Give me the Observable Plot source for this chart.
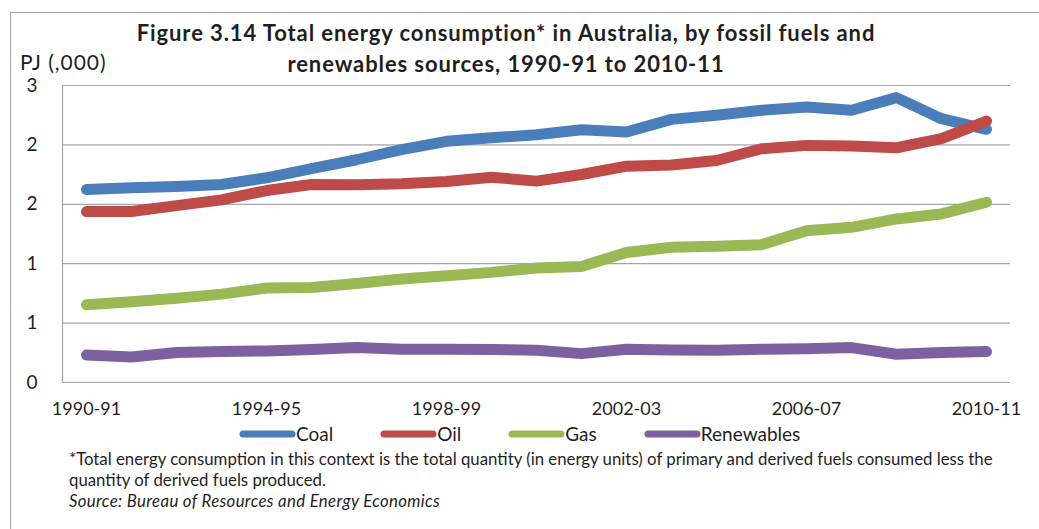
<!DOCTYPE html>
<html>
<head>
<meta charset="utf-8">
<script src="https://cdn.jsdelivr.net/npm/d3@7"></script>
<script src="https://cdn.jsdelivr.net/npm/@observablehq/plot@0.6"></script>
<style>
html, body { margin: 0; padding: 0; background: #fff; }
#wrap { position: relative; width: 1039px; height: 529px; overflow: hidden; font-family: Lato, "Open Sans", sans-serif; color: #1f1f1f; }
#border { position: absolute; left: 10px; top: 12px; width: 1200px; height: 700px; border-top: 1px solid #a6a6a6; border-left: 1px solid #a6a6a6; }
#chart { position: absolute; left: 0; top: 0; }
#title { position: absolute; left: 56px; width: 900px; top: 16.7px; text-align: center; font-weight: bold; font-size: 22px; letter-spacing: 0.9px; line-height: 31px; white-space: nowrap; }
#ylabel { position: absolute; left: 20px; top: 51.4px; font-size: 21px; letter-spacing: 1px; line-height: 21px; white-space: nowrap; }
#legend { position: absolute; left: 239px; top: 422.5px; height: 22px; display: flex; align-items: center; gap: 47px; font-size: 19px; line-height: 22px; white-space: nowrap; }
.item { display: flex; align-items: center; }
.item svg { display: block; }
#note { position: absolute; left: 69px; top: 447.5px; font-size: 16.8px; line-height: 21.3px; white-space: nowrap; }
#note i { font-style: italic; letter-spacing: 0.34px; }
</style>
</head>
<body>
<div id="wrap">
  <div id="border"></div>
  <div id="chart"></div>
  <div id="title">Figure 3.14 Total energy consumption* in Australia, by fossil fuels and<br>renewables sources, 1990-91 to 2010-11</div>
  <div id="ylabel">PJ (,000)</div>
  <div id="legend"></div>
  <div id="note">*Total energy consumption in this context is the total quantity (in energy units) of primary and derived fuels consumed less the<br>quantity of derived fuels produced.<br><i>Source: Bureau of Resources and Energy Economics</i></div>
</div>
<script>
const years = ["1990-91","1991-92","1992-93","1993-94","1994-95","1995-96","1996-97","1997-98","1998-99","1999-00","2000-01","2001-02","2002-03","2003-04","2004-05","2005-06","2006-07","2007-08","2008-09","2009-10","2010-11"];
const coal = [1.625,1.639,1.65,1.667,1.723,1.80,1.875,1.96,2.03,2.06,2.086,2.128,2.108,2.215,2.249,2.291,2.319,2.291,2.398,2.221,2.131];
const oil = [1.439,1.439,1.489,1.537,1.616,1.667,1.664,1.672,1.692,1.728,1.695,1.751,1.821,1.83,1.869,1.968,1.996,1.99,1.976,2.052,2.201];
const gas = [0.654,0.679,0.71,0.744,0.795,0.80,0.834,0.871,0.899,0.927,0.964,0.977,1.095,1.138,1.146,1.16,1.278,1.306,1.377,1.419,1.517];
const renewables = [0.232,0.215,0.252,0.26,0.266,0.277,0.294,0.28,0.28,0.277,0.272,0.243,0.28,0.274,0.272,0.28,0.285,0.294,0.238,0.252,0.26];

const seriesNames = ["Coal","Oil","Gas","Renewables"];
const seriesColors = ["#4a7ebb","#be4b48","#98b954","#7d60a0"];
const yTicks = [0,0.5,1,1.5,2,2.5];
const yTickLabels = ["0","1","1","2","2","3"];
const xTickLabels = ["1990-91","1994-95","1998-99","2002-03","2006-07","2010-11"];

const seriesValues = [coal, oil, gas, renewables];

const lineMarks = seriesNames.map((name, k) =>
  Plot.line(years.map((yr, i) => ({year: yr, value: seriesValues[k][i], series: name})), {
    x: "year", y: "value", stroke: seriesColors[k], strokeWidth: 11,
    strokeLinecap: "round", strokeLinejoin: "round"
  })
);

const chart = Plot.plot({
  width: 1039,
  height: 430,
  marginLeft: 62,
  marginRight: 29,
  marginTop: 85,
  marginBottom: 48,
  style: {fontFamily: "Lato, 'Open Sans', sans-serif", color: "#1f1f1f", background: "transparent"},
  x: {type: "point", domain: years, padding: 0.5, label: null},
  y: {domain: [0, 2.5], label: null},
  marks: [
    Plot.ruleY(yTicks, {stroke: "#a6a6a6", strokeWidth: 1.2}),
    Plot.frame({anchor: "left", stroke: "#a6a6a6", strokeWidth: 1.2}),
    ...lineMarks,
    Plot.axisX({ticks: xTickLabels, tickSize: 0, tickPadding: 20, fontSize: 18, label: null}),
    Plot.axisY({ticks: yTicks, tickFormat: d => yTickLabels[yTicks.indexOf(d)], tickSize: 0, tickPadding: 25, fontSize: 19, label: null})
  ]
});
document.getElementById("chart").appendChild(chart);

const legend = document.getElementById("legend");
seriesNames.forEach((name, k) => {
  const item = document.createElement("div");
  item.className = "item";
  const ns = "http://www.w3.org/2000/svg";
  const svg = document.createElementNS(ns, "svg");
  svg.setAttribute("width", 57);
  svg.setAttribute("height", 10);
  const ln = document.createElementNS(ns, "line");
  ln.setAttribute("x1", 4); ln.setAttribute("x2", 53);
  ln.setAttribute("y1", 5); ln.setAttribute("y2", 5);
  ln.setAttribute("stroke", seriesColors[k]);
  ln.setAttribute("stroke-width", 7);
  ln.setAttribute("stroke-linecap", "round");
  svg.appendChild(ln);
  const span = document.createElement("span");
  span.textContent = name;
  item.appendChild(svg);
  item.appendChild(span);
  legend.appendChild(item);
});
</script>
</body>
</html>
